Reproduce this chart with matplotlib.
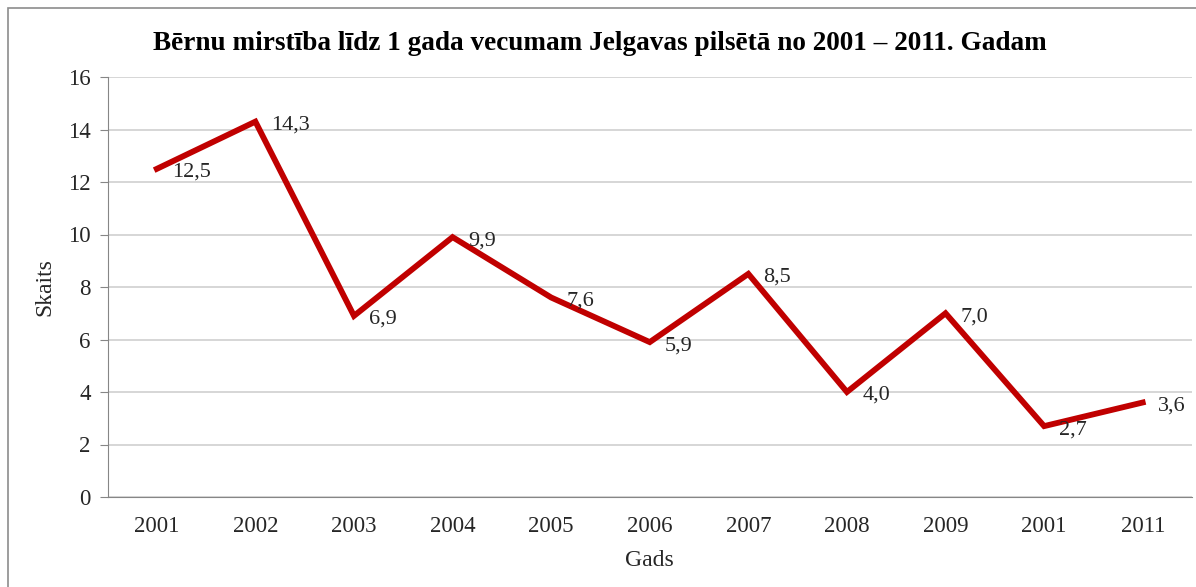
import matplotlib
matplotlib.use("Agg")
import matplotlib.pyplot as plt
from matplotlib.patches import Rectangle

categories = ["2001", "2002", "2003", "2004", "2005", "2006", "2007", "2008", "2009", "2001", "2011"]
values = [12.5, 14.3, 6.9, 9.9, 7.6, 5.9, 8.5, 4.0, 7.0, 2.7, 3.6]
labels = ["12,5", "14,3", "6,9", "9,9", "7,6", "5,9", "8,5", "4,0", "7,0", "2,7", "3,6"]
yticks = [0, 2, 4, 6, 8, 10, 12, 14, 16]

plt.rcParams['font.family'] = ['Liberation Serif', 'DejaVu Serif']

W, H = 1196, 587
fig = plt.figure(figsize=(W / 100, H / 100), dpi=100)
fig.patch.set_facecolor('white')

# outer chart border
fig.patches.append(Rectangle((8 / W, -0.01), 1.2, (H - 8) / H + 0.01, transform=fig.transFigure,
                             fill=False, edgecolor='#8c8c8c', linewidth=1.2))

left, right, top, bottom = 107.5, 1192, 77, 497
ax = fig.add_axes([left / W, 1 - bottom / H, (right - left) / W, (bottom - top) / H])

x = list(range(len(categories)))
ax.plot(x, values, color='#C00000', linewidth=4.2, solid_joinstyle='miter', zorder=3)
for xi, v, lab in zip(x, values, labels):
    ax.annotate(lab, (xi, v), xytext=(11, -2.5), textcoords='offset points',
                ha='left', va='center', fontsize=16, color='#262626', zorder=4)

ax.set_xlim(-0.5, len(categories) - 0.5)
ax.set_ylim(0, 16)
ax.set_yticks(yticks)
ax.set_yticklabels([str(t) for t in yticks], fontsize=16.5, color='#262626')
ax.set_xticks(x)
ax.set_xticklabels(categories, fontsize=16.5, color='#262626')
ax.tick_params(axis='x', length=0, pad=14)
ax.tick_params(axis='y', length=6, color='#868686', pad=6)
ax.grid(axis='y', color='#d0d0d0', linewidth=1.2)
ax.set_axisbelow(True)
for s in ['top', 'right']:
    ax.spines[s].set_visible(False)
ax.spines['left'].set_color('#868686')
ax.spines['bottom'].set_color('#868686')

fig.text(45 / W, 1 - 287 / H, 'Skaits', rotation=90, ha='center', va='center', fontsize=17, color='#262626')
fig.text(649 / W, 1 - 560 / H, 'Gads', ha='center', va='center', fontsize=17, color='#262626')
fig.text(600 / W, 1 - 44 / H, 'Bērnu mirstība līdz 1 gada vecumam Jelgavas pilsētā no 2001 – 2011. Gadam',
         ha='center', va='center', fontsize=19.6, fontweight='bold')

fig.savefig('out.png', dpi=100)
